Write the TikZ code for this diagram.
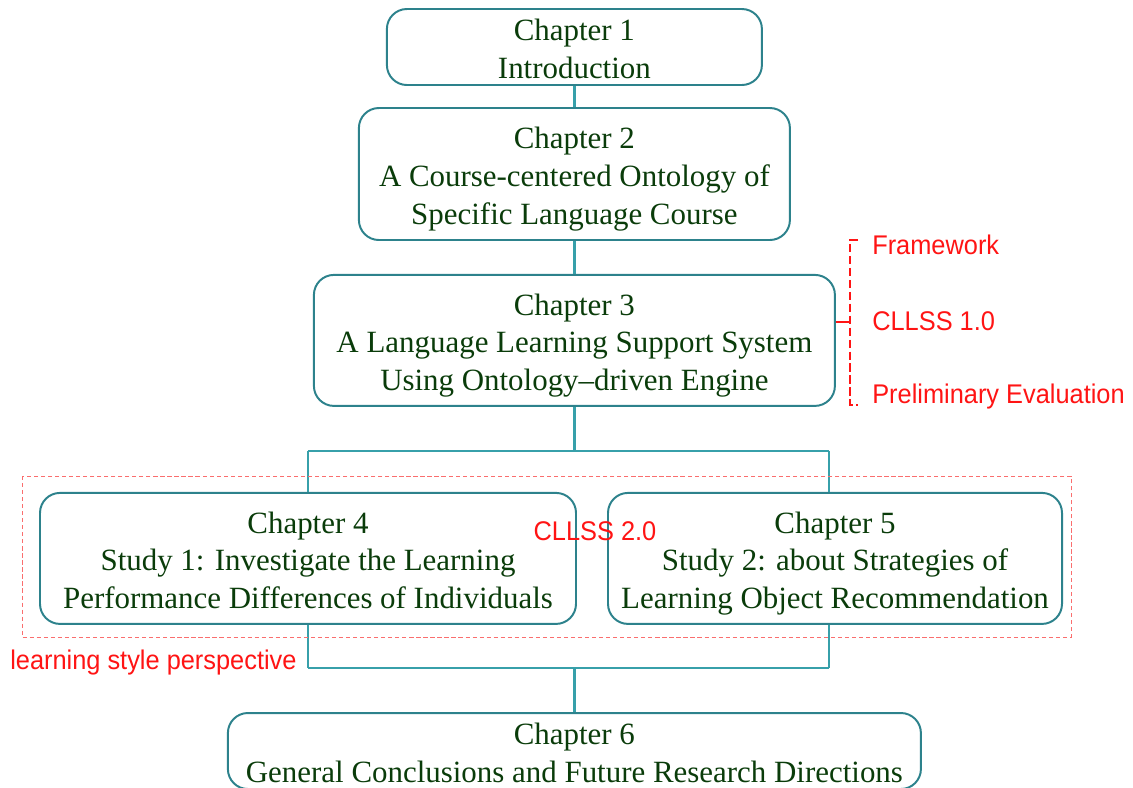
\documentclass[tikz,border=0pt]{standalone}
\usepackage{fontspec}
\setmainfont{Liberation Serif}
\newfontfamily\arialfont[FakeStretch=0.94]{Liberation Sans}
\usepackage{tikz}
\usetikzlibrary{positioning}
\usepackage{xcolor}
\definecolor{boxline}{RGB}{45,130,140}
\definecolor{linkline}{RGB}{55,160,170}
\definecolor{chaptext}{RGB}{10,60,10}
\definecolor{notered}{RGB}{255,20,20}
\definecolor{framered}{RGB}{250,110,110}
\newcommand{\firstline}[1]{\rule{0pt}{17.8pt}#1}
\newcommand{\lastline}[1]{\smash{#1}}

\begin{document}
\begin{tikzpicture}[
	chap/.style={shape=rectangle, rounded corners=0.5cm, draw=boxline, line width=1.4pt, align=center, text=chaptext, font=\fontsize{22}{26.7}\selectfont, inner sep=0pt},
	link/.style={draw=linkline, line width=2pt},
	note/.style={text=notered, font=\arialfont\fontsize{19.2}{22}\selectfont, inner sep=0pt}]
		\useasboundingbox (0,0) rectangle (28.325,-19.675);
		
		\node[chap, minimum width=9.375cm, minimum height=1.9cm] (c1) at (14.36,-1.175) {\firstline{Chapter 1}\\\lastline{Introduction}};
		\node[chap, minimum width=10.775cm, minimum height=3.3cm] (c2) at (14.36,-4.35) {\firstline{Chapter 2}\\A Course-centered Ontology of\\\lastline{Specific Language Course}};
		\node[chap, minimum width=13.025cm, minimum height=3.275cm] (c3) at (14.36,-8.51) {\firstline{Chapter 3}\\A Language Learning Support System\\\lastline{Using Ontology--driven Engine}};
		\node[chap, minimum width=13.4cm, minimum height=3.275cm] (c4) at (7.7,-13.96) {\firstline{Chapter 4}\\Study 1: Investigate the Learning\\\lastline{Performance Differences of Individuals}};
		\node[chap, minimum width=11.35cm, minimum height=3.275cm] (c5) at (20.875,-13.96) {\firstline{Chapter 5}\\Study 2: about Strategies of\\\lastline{Learning Object Recommendation}};
		\node[chap, minimum width=17.325cm, minimum height=1.9cm] (c6) at (14.36,-18.775) {\firstline{Chapter 6}\\\lastline{General Conclusions and Future Research Directions}};
		
		\coordinate (up4) at (7.7,-11.275);
		\coordinate (up5) at (20.725,-11.275);
		\coordinate (down4) at (7.7,-16.7);
		\coordinate (down5) at (20.725,-16.7);
		
		\path[link] (c1) edge (c2);
		\path[link] (c2) edge (c3);
		\path[link] (c3.south) edge (c3.south |- up4);
		\path[link] (up4) edge (up5);
		\path[link] (up4) edge (c4);
		\path[link] (up5) edge (up5 |- c5.north);
		\path[link] (c4) edge (down4);
		\path[link] (down4) edge (down5);
		\path[link] (up5 |- c5.south) edge (down5);
		\path[link] (c6.north |- down4) edge (c6);
		
		% red notes
		\draw[framered, line width=0.6pt, dash pattern=on 3pt off 2pt] (0.55,-11.9) rectangle (26.775,-15.925);
		\node[note] (v2) at (14.875,-13.275) {CLLSS 2.0};
		\node[note, anchor=west] (style) at (0.25,-16.575) {learning style perspective};
		
		\node[note, anchor=west] (fw) at (21.8,-6.125) {Framework};
		\node[note, anchor=west] (v1) at (21.8,-8.025) {CLLSS 1.0};
		\node[note, anchor=west] (pe) at (21.8,-9.925) {Preliminary Evaluation};
		\coordinate (brtop) at (21.45,-6.0);
		\coordinate (brbot) at (21.45,-10.125);
		\draw[notered, line width=1pt, dash pattern=on 6pt off 2.5pt] (brtop) -- (21.25,-6.0) -- (21.25,-10.125) -- (brbot);
		\draw[notered, line width=1pt] (c3.east |- 0,-8.05) -- (21.25,-8.05);
		\end{tikzpicture}
\end{document}
